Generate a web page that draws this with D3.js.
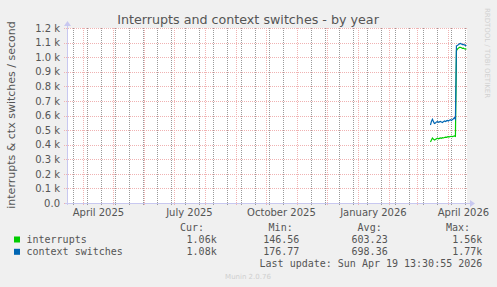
<!DOCTYPE html>
<html>
<head>
<meta charset="utf-8">
<script src="https://cdn.jsdelivr.net/npm/d3@7"></script>
<style>
  body { margin: 0; background: #f0f0f0; }
  svg { display: block; }
</style>
</head>
<body>
<svg id="chart"></svg>
<script>
// daily values, first point on 2026-03-14
const firstDay = new Date(2026, 2, 14);
const interrupts = [418, 432, 446, 438, 432, 436, 441, 444, 440, 443, 446, 444, 448, 446, 449, 451, 450, 453, 455, 454, 456, 457, 455, 458, 460, 457,
                    1045, 1055, 1062, 1067, 1068, 1064, 1060, 1062, 1058, 1055, 1057];
const ctxSwitches = [535, 560, 575, 558, 545, 548, 556, 558, 553, 556, 559, 555, 552, 558, 562, 558, 563, 566, 562, 568, 571, 566, 572, 578, 585, 574,
                     1078, 1080, 1086, 1091, 1094, 1090, 1086, 1088, 1084, 1081, 1079];

const yTicks = [0, 100, 200, 300, 400, 500, 600, 700, 800, 900, 1000, 1100, 1200];
const xLabels = ["April 2025", "July 2025", "October 2025", "January 2026", "April 2026"];
const xLabelMonths = [new Date(2025, 3, 1), new Date(2025, 6, 1), new Date(2025, 9, 1), new Date(2026, 0, 1), new Date(2026, 3, 1)];

const legendNames = ["interrupts", "context switches"];
const colors = ["#00cc00", "#0066b3"];
const curVals = ["1.06k", "1.08k"];
const minVals = ["146.56", "176.77"];
const avgVals = ["603.23", "698.36"];
const maxVals = ["1.56k", "1.77k"];

const width = 497, height = 287;
const margin = { top: 28, right: 30, bottom: 84, left: 67 };

const svg = d3.select("#chart").attr("width", width).attr("height", height);

svg.append("rect").attr("width", width).attr("height", height).attr("fill", "#f0f0f0");

const tEnd = new Date(2026, 3, 19, 13, 30);
const tStart = d3.timeDay.offset(tEnd, -400);

const x = d3.scaleTime()
            .domain([tStart, tEnd])
            .range([margin.left, width - margin.right]);

const y = d3.scaleLinear()
            .domain([0, 1200])
            .range([height - margin.bottom, margin.top]);

const x0 = margin.left, x1 = width - margin.right;
const y0 = height - margin.bottom, y1 = margin.top;

// plot area
svg.append("rect")
   .attr("x", x0).attr("y", y1)
   .attr("width", x1 - x0).attr("height", y0 - y1)
   .attr("fill", "#ffffff");

// minor grid, every two weeks
const minorDays = d3.timeDay.range(new Date(2025, 2, 22), tEnd, 14);
svg.append("g").selectAll("line")
   .data(minorDays)
   .enter().append("line")
   .attr("x1", d => Math.round(x(d)) + 0.5).attr("x2", d => Math.round(x(d)) + 0.5)
   .attr("y1", y1).attr("y2", y0 + 2)
   .attr("stroke", "#9a9a9a")
   .attr("stroke-dasharray", "1,1");

// major grid, months
const gridRed = "#f0b2b2";
const months = d3.timeMonth.range(tStart, tEnd);
svg.append("g").selectAll("line")
   .data(months)
   .enter().append("line")
   .attr("x1", d => Math.round(x(d)) + 0.5).attr("x2", d => Math.round(x(d)) + 0.5)
   .attr("y1", y1).attr("y2", y0 + 3)
   .attr("stroke", gridRed)
   .attr("stroke-dasharray", "1,1");

svg.append("g").selectAll("line")
   .data(yTicks)
   .enter().append("line")
   .attr("x1", x0 - 3).attr("x2", x1)
   .attr("y1", d => Math.round(y(d)) + 0.5).attr("y2", d => Math.round(y(d)) + 0.5)
   .attr("stroke", gridRed)
   .attr("stroke-dasharray", "1,1");

// axes lines with arrows
const axisColor = "#c8c8f0";
svg.append("line")
   .attr("x1", x0 - 2).attr("x2", x1 + 3)
   .attr("y1", Math.round(y0) + 0.5).attr("y2", Math.round(y0) + 0.5)
   .attr("stroke", axisColor);
svg.append("line")
   .attr("x1", x0 + 0.5).attr("x2", x0 + 0.5)
   .attr("y1", y0 + 2).attr("y2", y1 - 3)
   .attr("stroke", axisColor);
svg.append("path")
   .attr("d", `M${x1 + 3},${Math.round(y0) - 3} L${x1 + 8},${Math.round(y0) + 0.5} L${x1 + 3},${Math.round(y0) + 4} Z`)
   .attr("fill", axisColor);
svg.append("path")
   .attr("d", `M${x0 - 3},${y1 - 2} L${x0 + 0.5},${y1 - 7} L${x0 + 4},${y1 - 2} Z`)
   .attr("fill", axisColor);

// y axis labels
svg.append("g")
   .attr("transform", `translate(${x0 - 7}, 0)`)
   .call(d3.axisLeft(y).tickValues(yTicks).tickSize(0).tickPadding(0)
           .tickFormat(d => d === 0 ? "0.0" : (d / 1000).toFixed(1) + " k"))
   .call(g => g.select(".domain").remove())
   .selectAll("text")
   .attr("fill", "#555")
   .style("font-family", "DejaVu Sans")
   .style("font-size", "10px");

// x axis labels, centered mid-month
svg.append("g").selectAll("text")
   .data(xLabelMonths)
   .enter().append("text")
   .attr("x", d => x(d3.timeDay.offset(d, 15)))
   .attr("y", y0 + 12.5)
   .attr("text-anchor", "middle")
   .attr("fill", "#555")
   .style("font-family", "DejaVu Sans")
   .style("font-size", "10px")
   .text((d, i) => xLabels[i]);

// lines
const series = [interrupts, ctxSwitches];
series.forEach((vals, s) => {
    const line = d3.line()
                   .x((d, i) => x(d3.timeDay.offset(firstDay, i)))
                   .y(d => y(d));
    svg.append("path")
       .datum(vals)
       .attr("d", line)
       .attr("fill", "none")
       .attr("stroke", colors[s])
       .attr("stroke-width", 1.2);
});

// title and labels
svg.append("text")
   .attr("x", 248).attr("y", 24)
   .attr("text-anchor", "middle")
   .attr("fill", "#555")
   .style("font-family", "DejaVu Sans")
   .style("font-size", "12.7px")
   .text("Interrupts and context switches - by year");

svg.append("text")
   .attr("transform", "translate(15, 115) rotate(-90)")
   .attr("text-anchor", "middle")
   .attr("fill", "#555")
   .style("font-family", "DejaVu Sans")
   .style("font-size", "11px")
   .text("interrupts & ctx switches / second");

svg.append("text")
   .attr("transform", "translate(485, 53) rotate(90)")
   .attr("text-anchor", "middle")
   .attr("fill", "#d0d0d0")
   .style("font-family", "DejaVu Sans")
   .style("font-size", "7px")
   .text("RRDTOOL / TOBI OETIKER");

// legend
function monoText(xx, yy, txt, anchor) {
    svg.append("text")
       .attr("x", xx).attr("y", yy)
       .attr("text-anchor", anchor || "start")
       .attr("fill", "#555")
       .style("font-family", "DejaVu Sans Mono")
       .style("font-size", "10px")
       .text(txt);
}

monoText(204, 230.5, "Cur:", "end");
monoText(292.7, 230.5, "Min:", "end");
monoText(381.7, 230.5, "Avg:", "end");
monoText(470, 230.5, "Max:", "end");

legendNames.forEach((name, i) => {
    const yy = 243 + i * 12.3;
    svg.append("rect")
       .attr("x", 14).attr("y", yy - 6.5)
       .attr("width", 6).attr("height", 6)
       .attr("fill", colors[i]);
    monoText(26.5, yy, name);
    monoText(216.7, yy, curVals[i], "end");
    monoText(299.3, yy, minVals[i], "end");
    monoText(387.7, yy, avgVals[i], "end");
    monoText(482.3, yy, maxVals[i], "end");
});

monoText(482.3, 266.5, "Last update: Sun Apr 19 13:30:55 2026", "end");

svg.append("text")
   .attr("x", 248).attr("y", 279)
   .attr("text-anchor", "middle")
   .attr("fill", "#cfcfcf")
   .style("font-family", "DejaVu Sans")
   .style("font-size", "7px")
   .text("Munin 2.0.76");
</script>
</body>
</html>
